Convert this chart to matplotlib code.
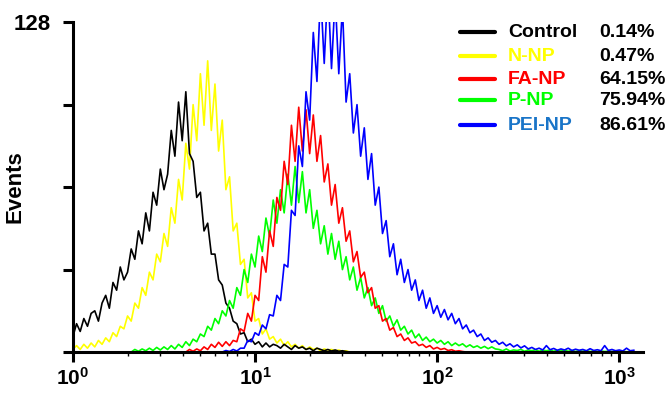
import matplotlib.pyplot as plt
import numpy as np
from matplotlib.ticker import FixedLocator, NullFormatter

plt.rcParams['font.family'] = ['Liberation Sans', 'DejaVu Sans']
plt.rcParams['font.weight'] = 'bold'
plt.rcParams['axes.labelweight'] = 'bold'
plt.rcParams['mathtext.fontset'] = 'custom'
plt.rcParams['mathtext.rm'] = 'Liberation Sans:bold'
plt.rcParams['mathtext.it'] = 'Liberation Sans:bold'
plt.rcParams['mathtext.bf'] = 'Liberation Sans:bold'

# histogram channels are 0.02 decades wide; each series starts at its own decade
BIN = 0.02

control_start = 0.0
control_counts = [6, 11, 8, 13, 10, 15, 16, 12, 19, 22, 17, 27, 24, 33, 28, 31, 40, 36, 47, 42,
                  54, 47, 62, 57, 71, 63, 69, 86, 76, 97, 82, 101, 77, 74, 60, 62, 47, 50, 38, 38,
                  28, 26, 19, 17, 12, 11, 7, 7.5, 4, 5, 3,
                  4, 2, 3.5, 2, 3, 2.5, 1.5, 3, 2, 1, 2.5, 1.5, 2, 1, 1.5, 0.5, 1.5, 1, 0.5, 1,
                  0.4, 0.8, 0.3, 0.5, 0.2, 0]

nnp_start = 0.0
nnp_counts = [1, 2.5, 1, 3, 1.5, 3.5, 2, 4.5, 3, 5.5, 4, 7.5, 6, 10, 9, 14, 12, 19, 17, 25,
              22, 31, 28, 38, 35, 46, 41, 56, 50, 67, 59, 81, 71, 96, 82, 108, 88, 113, 86, 104,
              78, 90, 63, 68, 47, 50, 34, 36, 21, 23, 12, 13, 7, 9, 5, 6, 3.5, 5, 2.5, 4,
              2, 3, 1.5, 2.5, 1, 2, 1, 1.5, 0.5, 1.2, 0.8, 1, 0.4, 0.8, 0.3, 0.5, 0]

pnp_start = 0.32
pnp_counts = [0, 1, 0.3, 1.2, 0.5, 1.5, 0.6, 1.8, 0.8, 2, 1, 2.5, 1.2, 3, 1.8, 4, 2.5, 5, 4, 7,
              6, 10, 8.5, 13, 11, 16, 14, 20, 17, 25, 22, 32, 27, 38, 33, 45, 39, 52, 45, 59,
              50, 63, 54, 69, 57, 72, 58, 70, 54, 63, 48, 55, 42, 49, 38, 46, 36, 43, 32, 37,
              28, 33, 24, 29, 21, 25, 18, 21, 15, 18, 12, 14, 10, 12.5, 8.5, 10, 7, 8.5, 5.5, 7,
              4.5, 5.8, 4, 5, 3.5, 4.5, 3, 4, 2.5, 3.5, 2.5, 3.2, 2, 2.8, 1.8, 2.4, 1.5, 2.2,
              1.3, 2, 1.2,
              1, 0.5, 1.2, 0.4, 0.8, 0.6, 1, 0.3, 0.8, 0.5, 0.9, 0.3, 0.7, 0.5, 0.8, 0.3, 0.6,
              0.4, 0.7, 0.3, 0.6, 0.2, 0.5, 0.3, 0.5, 0.2, 0.4, 0.2, 0.4, 0.2, 0.3, 0.2, 0.3,
              0.1, 0.3, 0.1, 0.2, 0.1]

fanp_start = 0.62
fanp_counts = [0, 1, 0.3, 1.2, 0.5, 2, 1, 3, 1.8, 3.8, 2.2, 4, 2.5, 4.5, 4, 9, 8, 15, 12, 22,
               20, 37, 31, 47, 41, 60, 55, 74, 65, 88, 74, 95, 78, 94, 77, 92, 74, 84, 66, 73,
               57, 65, 50, 56, 43, 47, 35, 39, 29, 31, 23, 25, 17, 18, 12, 13, 8.5, 9.5, 6, 7,
               4.5, 5.5, 3.5, 4, 2.5, 3, 1.8, 2.5, 1.2, 1.8, 1, 1.4, 0.6, 0.9, 0.3, 0.5, 0.2, 0]

peinp_start = 0.82
peinp_counts = [0, 0.6, 0.2, 1, 0.4, 1.5, 1.5, 4.5, 4, 7.5, 6.5, 10.5, 9, 14.5, 14, 22, 20, 34, 33, 55,
                53, 80, 72, 101, 90, 124, 105, 140, 112, 142, 110, 138, 108, 134, 97, 108, 85, 96, 76, 87,
                67, 77, 57, 64, 46, 51, 37, 42, 30, 36, 27, 32, 24, 28, 20, 24, 17, 21, 15, 18,
                13.5, 16.5, 12.5, 15, 11, 13, 9, 10.5, 7.5, 8.5, 6, 7, 4.5, 5.5, 3.8, 4.5, 3, 3.8, 2.4, 3.2,
                2, 2.8, 1.6, 2.4,
                1.2, 1.8, 1, 1.5, 0.8, 2.5, 0.9, 1.4, 0.7, 1.2, 0.8, 1.5, 0.6, 1.1, 0.7, 1, 0.5, 1.3,
                0.6, 0.9, 0.5, 2.5, 0.6, 1, 0.5, 0.8, 0.4, 1.5, 0.5, 0.7]

names = ['Control', 'N-NP', 'FA-NP', 'P-NP', 'PEI-NP']
percents = ['0.14%', '0.47%', '64.15%', '75.94%', '86.61%']
line_colors = ['#000000', '#ffff00', '#ff0000', '#00ff00', '#0000ff']
text_colors = ['#000000', '#ffff00', '#ff0000', '#00ff00', '#1a75c8']


def channels(start, counts):
    return 10 ** (start + BIN * np.arange(len(counts)))


fig = plt.figure(figsize=(6.69, 3.96), dpi=100)
ax = fig.add_axes([0.109, 0.111, 0.852, 0.833])

series = [(nnp_start, nnp_counts, line_colors[1]),
          (control_start, control_counts, line_colors[0]),
          (pnp_start, pnp_counts, line_colors[3]),
          (fanp_start, fanp_counts, line_colors[2]),
          (peinp_start, peinp_counts, line_colors[4])]
for start, counts, color in series:
    ax.plot(channels(start, counts), counts, color=color, linewidth=1.2)

ax.set_xscale('log')
ax.set_xlim(1, 10 ** 3.13)
ax.set_ylim(0, 128)

ax.set_xticks([1, 10, 100, 1000])
ax.set_xticklabels([r'$10^{0}$', r'$10^{1}$', r'$10^{2}$', r'$10^{3}$'], fontsize=15)
minor = [m * 10 ** d for d in range(4) for m in range(2, 10) if m * 10 ** d < 10 ** 3.13]
ax.xaxis.set_minor_locator(FixedLocator(minor))
ax.xaxis.set_minor_formatter(NullFormatter())
ax.set_yticks([0, 32, 64, 96, 128])
ax.set_yticklabels(['', '', '', '', '128'], fontsize=16)

for side in ['top', 'right']:
    ax.spines[side].set_visible(False)
for side in ['left', 'bottom']:
    ax.spines[side].set_linewidth(2.2)
ax.tick_params(axis='both', which='major', width=2.2, length=7, direction='out')
ax.tick_params(axis='x', which='major', pad=4)
ax.tick_params(axis='y', which='major', pad=9)
ax.tick_params(axis='x', which='minor', width=1, length=3, direction='out')

ax.set_ylabel('Events', fontsize=16, fontweight='bold')
ax.yaxis.set_label_coords(-0.084, 0.5)

row_y = [0.970, 0.897, 0.827, 0.764, 0.688]
for y, name, pct, lc, tc in zip(row_y, names, percents, line_colors, text_colors):
    ax.plot([0.679, 0.740], [y, y], color=lc, linewidth=3, solid_capstyle='round',
            transform=ax.transAxes, clip_on=False)
    ax.text(0.763, y, name, color=tc, fontsize=14, va='center', transform=ax.transAxes)
    ax.text(0.923, y, pct, color='black', fontsize=14, va='center', transform=ax.transAxes)

fig.savefig('out.png', dpi=100)
